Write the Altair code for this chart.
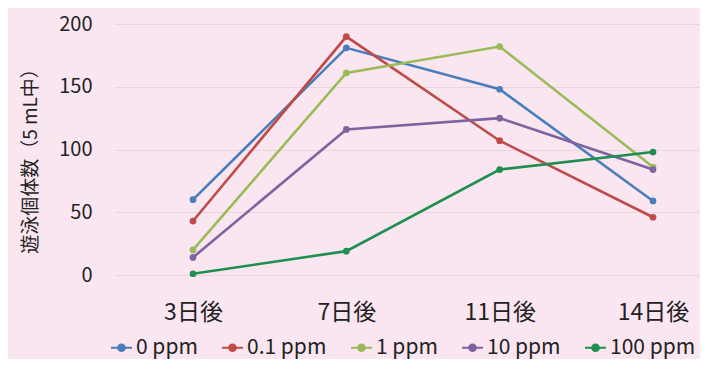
import altair as alt
import pandas as pd

days = ["3日後", "7日後", "11日後", "14日後"]
series = ["0 ppm", "0.1 ppm", "1 ppm", "10 ppm", "100 ppm"]
v_0 = [60, 181, 148, 59]
v_01 = [43, 190, 107, 46]
v_1 = [20, 161, 182, 86]
v_10 = [14, 116, 125, 84]
v_100 = [1, 19, 84, 98]
colors = ["#4a7ebb", "#be4b48", "#9bbb59", "#7f62a0", "#1f8f50"]

rows = []
for name, vals in zip(series, [v_0, v_01, v_1, v_10, v_100]):
    for d, v in zip(days, vals):
        rows.append({"day": d, "series": name, "value": v})
df = pd.DataFrame(rows)

font = "Noto Sans CJK JP"
bg = "#fae6f0"

x = alt.X("day:N", sort=days, title=None,
          scale=alt.Scale(type="point", padding=0.4076, align=0.624),
          axis=alt.Axis(labelAngle=0, labelFontSize=23, labelFont=font, labelColor="#222",
                        labelPadding=26, domain=False, ticks=False, grid=False))
y = alt.Y("value:Q", title="遊泳個体数（5 mL中）",
          scale=alt.Scale(domain=[0, 200], nice=False),
          axis=alt.Axis(values=[0, 50, 100, 150, 200], labelFontSize=20, labelFont=font,
                        labelColor="#222", labelPadding=23, domain=False, ticks=False,
                        gridColor="#ead5df", gridWidth=1.2,
                        titleFont=font, titleFontSize=19, titleFontWeight="normal",
                        titleColor="#222", titlePadding=18, titleY=132))
color = alt.Color("series:N", sort=series,
                  scale=alt.Scale(domain=series, range=colors),
                  legend=alt.Legend(title=None, orient="none", direction="horizontal",
                                    legendX=-5, legendY=312, columns=5,
                                    labelFont=font, labelFontSize=21, labelColor="#222",
                                    symbolType="M-1,0L1,0M-0.32,0A0.32,0.32,0,1,0,0.32,0A0.32,0.32,0,1,0,-0.32,0Z",
                                    symbolSize=440, symbolStrokeWidth=2, labelOffset=3,
                                    columnPadding=20))

base = alt.Chart(df).encode(x=x, y=y, color=color)
lines = base.mark_line(strokeWidth=2.6)
points = base.mark_point(filled=True, size=45, opacity=1)

chart = alt.layer(lines, points).properties(
    width=585, height=251,
    background=bg,
    padding={"left": 107, "top": 16, "right": 0, "bottom": 84},
    autosize=alt.AutoSizeParams(type="none"),
).configure_view(stroke=None)

chart.save("out.html", embed_options={"renderer": "svg", "actions": False})
